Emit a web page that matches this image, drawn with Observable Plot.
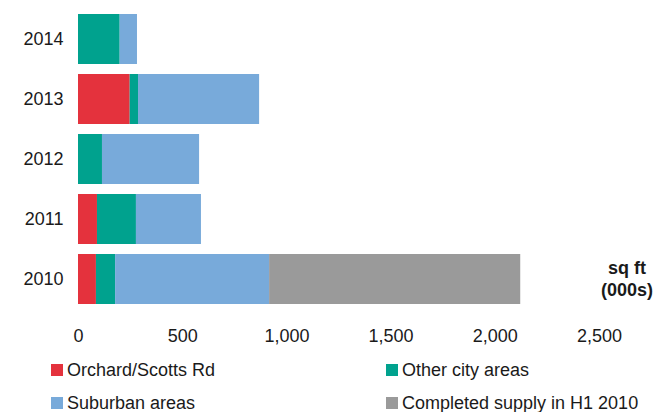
<!DOCTYPE html>
<html>
<head>
<meta charset="utf-8">
<script src="https://cdn.jsdelivr.net/npm/d3@7"></script>
<script src="https://cdn.jsdelivr.net/npm/@observablehq/plot@0.6"></script>
<style>
  html, body { margin: 0; padding: 0; background: #fff; }
  #wrap { position: relative; width: 668px; height: 412px; overflow: hidden; font-family: "Liberation Sans", Arial, sans-serif; color: #1a1a1a; }
  #unit { position: absolute; left: 577px; top: 257px; width: 100px; text-align: center; font-weight: bold; font-size: 18px; line-height: 22px; }
  #legend { display: grid; grid-template-columns: 335px 282px; grid-template-rows: 35px 32px; margin-left: 51px; }
  .item { display: flex; align-items: center; font-size: 18px; line-height: 18px; }
  .sw { width: 12px; height: 12px; margin-right: 4px; flex: none; }
</style>
</head>
<body>
<div id="wrap">
  <div id="chart"></div>
  <div id="unit">sq ft<br>(000s)</div>
  <div id="legend"></div>
</div>
<script>
const years = ["2014", "2013", "2012", "2011", "2010"];
const orchard = [0, 248, 0, 91, 86];
const otherCity = [200, 40, 115, 187, 92];
const suburban = [83, 581, 466, 312, 739];
const completed = [0, 0, 0, 0, 1205];
const seriesNames = ["Orchard/Scotts Rd", "Other city areas", "Suburban areas", "Completed supply in H1 2010"];
const seriesColors = ["#e4323d", "#00a28e", "#78aada", "#9a9a9a"];
const xTicks = [0, 500, 1000, 1500, 2000, 2500];

const seriesValues = [orchard, otherCity, suburban, completed];
const data = [];
seriesNames.forEach((name, si) => {
  years.forEach((yr, yi) => {
    const v = seriesValues[si][yi];
    if (v > 0) data.push({ year: yr, series: name, value: v });
  });
});

const chart = Plot.plot({
  width: 668,
  height: 352,
  marginLeft: 78,
  marginRight: 69,
  marginTop: 9,
  marginBottom: 43,
  style: { fontFamily: '"Liberation Sans", Arial, sans-serif', fontSize: "18px", color: "#1a1a1a", background: "#fff" },
  x: { domain: [0, 2500], ticks: xTicks, tickFormat: d3.format(","), tickSize: 0, tickPadding: 20, label: null },
  y: { domain: years, paddingInner: 1 / 6, paddingOuter: 1 / 12, tickSize: 0, tickPadding: 15, label: null },
  color: { domain: seriesNames, range: seriesColors },
  marks: [
    Plot.barX(data, Plot.stackX({ y: "year", x: "value", fill: "series", order: seriesNames }))
  ]
});
document.getElementById("chart").appendChild(chart);

const legend = document.getElementById("legend");
seriesNames.forEach((name, i) => {
  const item = document.createElement("div");
  item.className = "item";
  const sw = document.createElement("span");
  sw.className = "sw";
  sw.style.background = seriesColors[i];
  const t = document.createElement("span");
  t.textContent = name;
  item.appendChild(sw);
  item.appendChild(t);
  legend.appendChild(item);
});
</script>
</body>
</html>
